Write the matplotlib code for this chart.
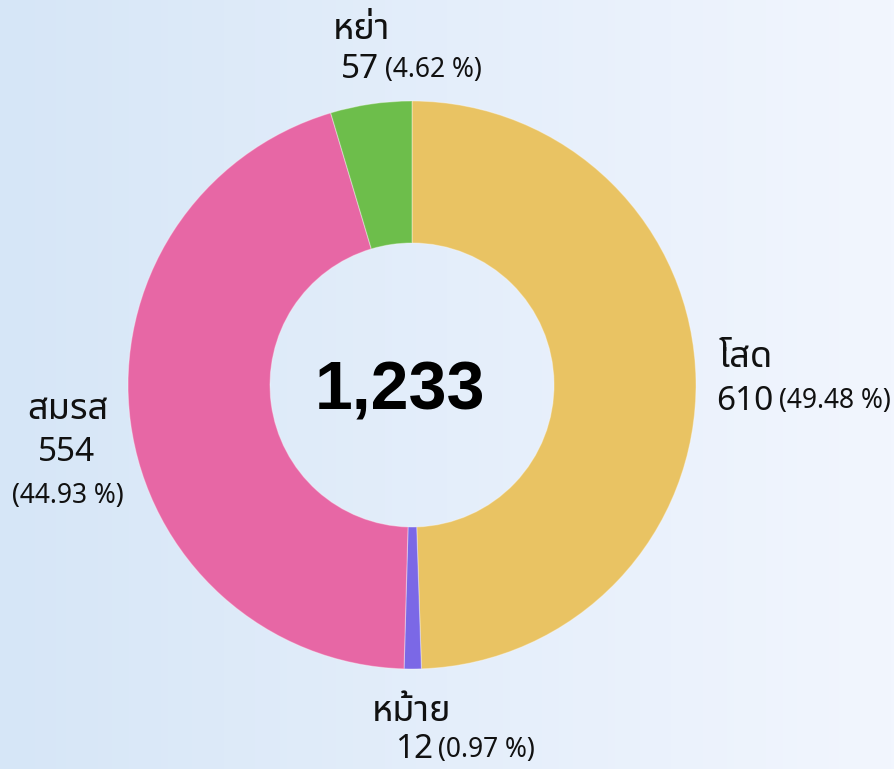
import numpy as np
import matplotlib.pyplot as plt
from matplotlib import font_manager
from matplotlib.ft2font import FT2Font

# data
labels = ['โสด', 'หม้าย', 'สมรส', 'หย่า']
values = [610, 12, 554, 57]
percents = [49.48, 0.97, 44.93, 4.62]
colors = ['#E9C363', '#7B68E6', '#E767A5', '#6DBE4B']
total = sum(values)

# find a font that has thai glyphs
thai_font = None
prefer = ['Noto Sans Thai', 'Noto Sans Thai Looped', 'Noto Sans', 'Open Sans', 'Roboto', 'Lato', 'Inter']
found = {}
for f in font_manager.fontManager.ttflist:
    try:
        if 0x0E2A in FT2Font(f.fname).get_charmap():
            found.setdefault(f.name, f.fname)
    except Exception:
        pass
for name in prefer:
    if name in found:
        thai_font = name
        break
if thai_font is None and found:
    thai_font = sorted(found)[0]
fam = [thai_font, 'DejaVu Sans'] if thai_font else ['DejaVu Sans']
plt.rcParams['font.family'] = fam

fig = plt.figure(figsize=(8.95, 7.69), dpi=100)

# background gradient
bg = fig.add_axes([0, 0, 1, 1])
c1 = np.array([214, 230, 247]) / 255
c2 = np.array([242, 246, 254]) / 255
t = np.linspace(0, 1, 256)[None, :, None]
grad = c1 + (c2 - c1) * t
bg.imshow(grad, aspect='auto', extent=[0, 1, 0, 1])
bg.axis('off')

ax = fig.add_axes([0, 0, 1, 1])
ax.patch.set_visible(False)
ax.axis('off')

wedges, _ = ax.pie(values, colors=colors, startangle=90, counterclock=False,
                   radius=1.0, wedgeprops=dict(width=0.5, edgecolor=(1, 1, 1, 0.35), linewidth=0.8))
ax.set_aspect('auto')
ax.set_xlim(-412 / 284, (895 - 412) / 284)
ax.set_ylim(-(769 - 385) / 284, 385 / 284)

px = 0.72
ax.annotate(f'{total:,}', xy=(0, 0), xytext=(-12 * px, -7 * px), textcoords='offset points',
            ha='center', va='center', fontsize=49,
            fontweight='bold', family='Liberation Sans', color='black')

# label offsets (pixels) from wedge edge point: name, number, pct
offs = {
    'โสด': ((50, 22), (49, -21), None),
    'สมรส': ((-63, 12), (-64, -30), (-63, -74)),
    'หม้าย': ((-1, -43), (1, -81), None),
    'หย่า': ((-9, 74), (-11, 34), None),
}
for w, lab, v, p in zip(wedges, labels, values, percents):
    ang = np.deg2rad((w.theta1 + w.theta2) / 2)
    pt = (np.cos(ang), np.sin(ang))
    o_name, o_num, o_pct = offs[lab]
    pct = f'({p:.2f} %)'
    ax.annotate(lab, xy=pt, xytext=(o_name[0] * px, o_name[1] * px), textcoords='offset points',
                ha='center', va='center', fontsize=26, color='#111111')
    num = ax.annotate(str(v), xy=pt, xytext=(o_num[0] * px, o_num[1] * px), textcoords='offset points',
                      ha='center', va='center', fontsize=24, color='#111111')
    if o_pct is None:
        ax.annotate(pct, xy=(1, 0.5), xycoords=num, xytext=(4, 0), textcoords='offset points',
                    ha='left', va='center', fontsize=19, color='#111111')
    else:
        ax.annotate(pct, xy=pt, xytext=(o_pct[0] * px, o_pct[1] * px), textcoords='offset points',
                    ha='center', va='center', fontsize=19, color='#111111')

fig.savefig('out.png', dpi=100)
